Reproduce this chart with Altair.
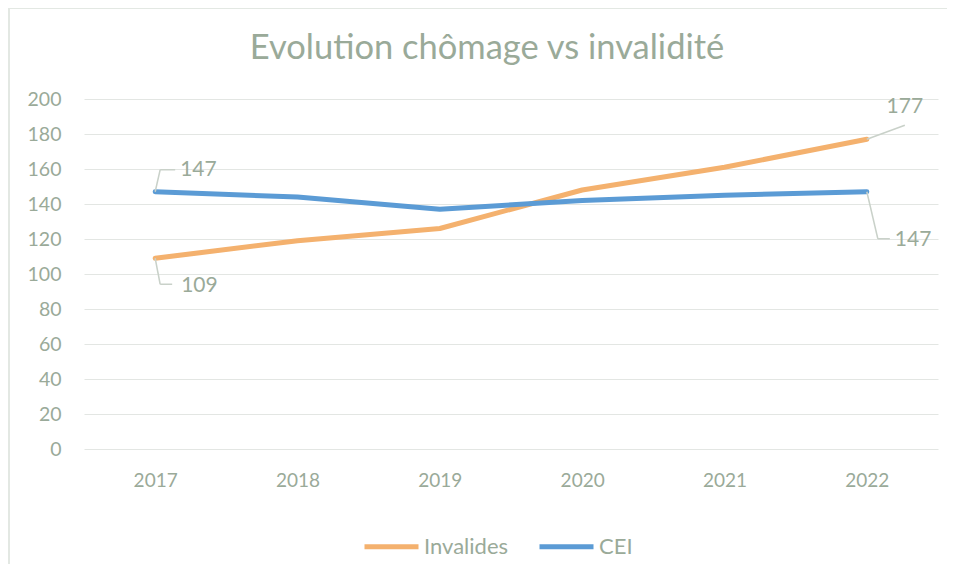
import altair as alt
import pandas as pd

years = [2017, 2018, 2019, 2020, 2021, 2022]
invalides = [109, 119, 126, 148, 161, 177]
cei = [147, 144, 137, 142, 145, 147]
series_names = ["Invalides", "CEI"]
series_colors = ["#F4B16E", "#5B9BD5"]
y_ticks = [0, 20, 40, 60, 80, 100, 120, 140, 160, 180, 200]

# data labels shown on the chart
label_series = ["CEI", "Invalides", "Invalides", "CEI"]
label_years = [2017, 2017, 2022, 2022]
label_values = [147, 109, 177, 147]

TXT = "#9AAA99"
LEAD = "#C9D1C9"
FONT = "Lato"

df = pd.DataFrame(
    [{"year": y, "series": "Invalides", "value": v} for y, v in zip(years, invalides)]
    + [{"year": y, "series": "CEI", "value": v} for y, v in zip(years, cei)]
)
lab = pd.DataFrame({"i": range(4), "series": label_series, "year": label_years, "value": label_values})

xscale = alt.Scale(domain=[2016.5, 2022.5], nice=False, zero=False)
yscale = alt.Scale(domain=[0, 200], nice=False)
xaxis = alt.Axis(values=years, format="d", grid=False, domain=False, ticks=False,
                 labelPadding=22, labelFontSize=19, labelColor=TXT, labelFont=FONT)
yaxis = alt.Axis(values=y_ticks, grid=True, gridColor="#E3E6E3", tickCount=11,
                 domain=False, ticks=False, labelPadding=23, labelFontSize=19.5,
                 labelOverlap=False, labelColor=TXT, labelFont=FONT)
xq = alt.X("year:Q", scale=xscale, axis=xaxis, title=None)
yq = alt.Y("value:Q", scale=yscale, axis=yaxis, title=None)

lines = alt.Chart(df).mark_line(strokeWidth=5, strokeCap="round", strokeJoin="round").encode(
    x=xq, y=yq,
    color=alt.Color("series:N", scale=alt.Scale(domain=series_names, range=series_colors),
                    legend=alt.Legend(title=None, orient="none", direction="horizontal",
                                      legendX=278, legendY=418, symbolType="stroke",
                                      symbolStrokeWidth=5, symbolSize=2916, labelFontSize=22,
                                      labelColor=TXT, labelFont=FONT, labelOffset=3,
                                      columnPadding=20)),
    order=alt.Order("year:Q"),
)

# leader-line geometry in pixel offsets: (elbow dx, elbow dy, end dx, text dx, text dy, align)
geom = [
    (5, -22, 20, 25, -22, "left"),
    (5, 26, 17, 26, 28, "left"),
    (38, -14, 38, 38, -32, "center"),
    (11, 47, 23, 28, 48, "left"),
]

layers = [lines]
for i, (ex, ey, endx, tdx, tdy, al) in enumerate(geom):
    base = alt.Chart(lab).transform_filter(alt.datum.i == i)
    enc = dict(x=xq, y=yq, x2="year:Q", y2="value:Q")
    layers.append(base.mark_rule(color=LEAD, strokeWidth=1.5, x2Offset=ex, y2Offset=ey).encode(**enc))
    if endx != ex:
        layers.append(base.mark_rule(color=LEAD, strokeWidth=1.5, xOffset=ex, yOffset=ey,
                                     x2Offset=endx, y2Offset=ey).encode(**enc))
    layers.append(base.mark_text(dx=tdx, dy=tdy, align=al, baseline="middle", fontSize=21,
                                 color=TXT, font=FONT).encode(x=xq, y=yq, text="value:Q"))

# chart-area border (left and top edges)
layers.append(alt.Chart(lab).transform_filter(alt.datum.i == 0).mark_rule(color="#E3E8E3", strokeWidth=2).encode(
    x=alt.value(-75), x2=alt.value(-75), y=alt.value(-91), y2=alt.value(480)))
layers.append(alt.Chart(lab).transform_filter(alt.datum.i == 0).mark_rule(color="#E3E8E3", strokeWidth=2).encode(
    x=alt.value(-75), x2=alt.value(870), y=alt.value(-91), y2=alt.value(-91)))

chart = alt.layer(*layers).properties(
    width=854, height=350,
    title=alt.TitleParams("Evolution chômage vs invalidité", fontSize=34.5, font=FONT,
                          color=TXT, fontWeight="normal", anchor="middle", dx=-24, offset=-59),
    autosize=alt.AutoSizeParams(type="none"),
    padding={"left": 76, "top": 91, "right": 9, "bottom": 115},
).configure_view(stroke=None)

chart.save("out.html", embed_options={"renderer": "svg", "actions": False})
